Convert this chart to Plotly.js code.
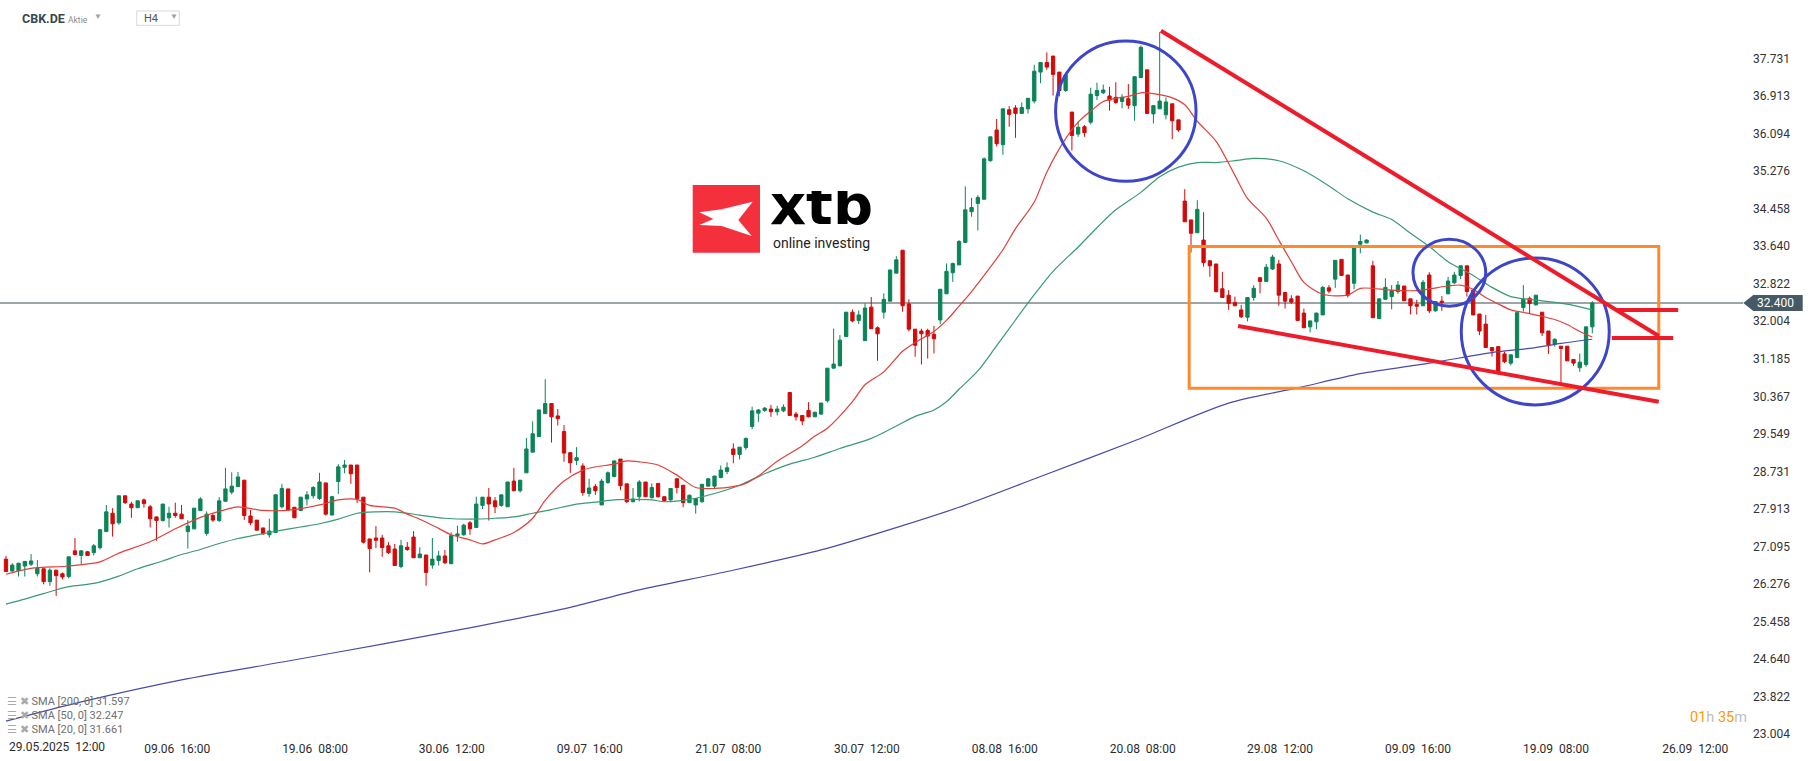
<!DOCTYPE html>
<html>
<head>
<meta charset="utf-8">
<script src="https://cdn.plot.ly/plotly-3.0.1.min.js"></script>
<style>html,body{margin:0;padding:0;background:#fff;}#chart{width:1815px;height:761px;}</style>
</head>
<body>
<div id="chart"></div>
<script>
// ---------------- DATA ----------------
const open = [26.82,26.56,26.57,26.67,26.71,26.50,26.61,26.33,26.58,26.50,26.44,27.00,26.90,26.98,26.96,27.07,27.42,27.82,27.61,28.20,
28.02,27.94,28.11,27.96,27.74,27.66,27.72,27.82,27.80,27.42,27.48,27.88,27.38,27.77,27.66,28.08,28.28,28.40,28.54,27.76,
27.67,27.50,27.35,27.40,27.96,28.35,27.95,27.88,28.13,28.20,28.14,28.48,27.78,28.51,28.82,28.87,28.87,28.17,27.26,27.28,
27.28,27.11,27.04,26.66,27.08,27.30,26.85,26.91,26.69,26.79,26.89,26.72,27.33,27.35,27.61,27.51,27.99,28.17,28.09,27.99,
27.96,28.52,28.31,28.70,29.15,29.49,29.99,30.21,29.94,29.60,29.14,28.97,28.85,28.25,28.40,28.00,28.49,28.62,29.00,28.46,
28.07,28.18,28.50,28.16,28.47,28.18,28.11,28.57,28.43,28.05,28.00,28.07,28.41,28.41,28.60,28.73,29.22,29.10,29.25,29.71,
30.00,30.06,30.09,30.03,30.05,30.45,29.98,29.95,30.06,29.92,29.98,30.27,30.98,31.03,31.67,32.20,32.02,31.58,32.31,31.86,
32.20,32.44,33.05,33.55,32.38,31.83,31.79,31.80,31.72,32.03,32.60,33.06,33.23,33.72,34.39,34.57,34.66,35.50,36.17,35.85,
36.61,36.65,36.53,36.63,36.80,37.43,37.64,37.78,37.43,37.03,36.56,36.08,36.24,36.34,36.92,36.98,36.91,36.88,36.79,36.85,
36.70,37.31,37.48,36.52,36.63,36.50,36.74,36.39,34.62,34.21,33.93,33.77,33.32,33.25,32.71,32.57,32.41,32.25,32.09,32.52,
32.95,32.87,33.14,33.25,32.63,32.49,32.55,32.18,31.88,31.99,32.14,32.73,32.92,33.35,33.01,32.83,33.68,33.71,33.21,32.06,
32.48,32.54,32.65,32.77,32.49,32.37,32.34,33.01,32.23,32.44,32.60,32.84,33.00,33.21,32.68,32.16,31.94,31.43,31.45,31.29,
31.09,31.21,32.30,32.50,32.36,32.20,31.79,31.50,31.46,31.46,31.17,30.99,31.06,31.88];
const high = [26.89,26.73,26.74,26.77,26.93,26.80,26.61,26.62,26.58,26.53,26.87,27.28,27.02,27.00,27.15,27.48,28.00,27.93,28.20,28.20,
28.07,28.09,28.14,28.00,27.74,28.02,27.96,28.05,28.00,27.67,27.93,28.17,27.86,27.81,28.17,28.81,28.71,28.72,28.54,27.89,
27.67,27.50,27.70,28.24,28.46,28.35,27.95,28.17,28.30,28.41,28.70,28.48,28.20,28.89,28.98,28.87,28.87,28.17,27.26,27.54,
27.35,27.19,27.15,27.24,27.19,27.43,27.08,26.91,27.28,27.00,27.02,27.40,27.55,27.59,27.65,28.18,28.17,28.37,28.17,28.22,
28.50,28.81,28.54,29.46,29.82,30.07,30.74,30.21,30.09,29.74,29.14,29.26,28.91,28.57,28.46,28.57,28.73,28.97,29.00,28.46,
28.37,28.54,28.50,28.47,28.47,28.18,28.36,28.59,28.43,28.23,28.14,28.45,28.59,28.63,28.86,28.93,29.34,29.26,29.47,30.14,
30.09,30.13,30.18,30.16,30.19,30.45,30.03,29.95,30.24,30.03,30.22,30.98,31.84,31.70,32.20,32.26,32.24,32.39,32.53,31.89,
32.61,33.12,33.42,33.55,32.48,31.83,31.84,31.84,31.90,32.70,33.26,33.28,33.77,34.94,34.69,34.75,35.57,36.02,36.41,36.63,
36.69,36.71,36.77,36.86,37.59,37.64,37.86,37.78,37.43,37.37,36.56,36.35,36.28,37.09,37.20,37.16,37.11,37.21,36.95,37.17,
37.33,38.01,37.48,36.70,38.30,36.88,36.74,36.39,34.88,34.21,34.64,34.38,33.32,33.25,33.08,32.68,32.54,32.36,32.52,32.79,
32.97,33.25,33.45,33.34,32.63,32.57,32.55,32.28,32.01,32.19,32.77,32.79,33.33,33.35,33.01,33.61,33.89,33.79,33.32,32.49,
32.94,32.79,32.88,32.77,32.49,32.47,32.90,33.07,32.43,32.55,32.97,33.08,33.21,33.21,32.68,32.16,32.14,31.43,31.45,31.34,
31.28,32.19,32.79,32.54,32.57,32.20,31.79,31.63,31.46,31.46,31.17,31.30,31.88,32.44];
const low = [26.55,26.55,26.44,26.44,26.67,26.44,26.27,26.24,26.02,26.38,26.40,26.90,26.71,26.90,26.90,27.03,27.42,27.31,27.57,28.02,
27.72,27.94,27.94,27.51,27.22,27.64,27.51,27.72,27.70,27.05,27.47,27.88,27.33,27.63,27.63,28.08,28.23,28.40,27.67,27.56,
27.45,27.35,27.29,27.40,27.93,27.89,27.72,27.88,27.99,28.14,28.11,27.77,27.78,28.24,28.69,28.46,28.04,27.16,26.53,27.06,
26.87,26.93,26.68,26.62,27.00,26.85,26.85,26.24,26.61,26.68,26.71,26.72,27.20,27.33,27.35,27.51,27.91,27.66,27.82,27.96,
27.96,28.30,28.27,28.70,29.15,29.49,29.99,29.36,29.73,28.94,28.70,28.87,28.20,28.18,28.22,28.00,28.46,28.62,28.32,28.04,
28.06,28.08,28.18,28.14,28.16,28.07,28.09,28.25,27.95,28.05,27.81,28.05,28.40,28.36,28.58,28.67,28.91,28.99,29.20,29.65,
29.81,30.03,29.92,29.95,30.02,29.95,29.84,29.74,29.91,29.92,29.96,30.23,30.98,31.03,31.67,31.98,31.94,31.58,31.84,31.14,
32.06,32.44,33.05,32.21,31.78,31.23,31.06,31.19,31.30,31.94,32.60,32.86,33.23,33.72,34.28,33.98,34.66,35.48,35.81,35.63,
36.24,36.00,36.53,36.53,36.75,37.19,37.48,36.92,36.90,37.00,35.72,36.02,36.02,36.29,36.82,36.95,36.59,36.74,36.64,36.63,
36.37,37.31,36.53,36.31,36.63,36.40,35.97,36.13,34.17,33.50,33.93,33.19,32.97,32.63,32.52,32.25,32.34,32.07,32.00,32.45,
32.61,32.87,33.12,32.34,32.28,32.38,32.02,31.86,31.76,31.83,32.14,32.61,32.73,33.00,32.52,32.70,33.48,33.70,32.08,32.06,
32.48,32.26,32.60,32.45,32.15,32.15,32.34,32.18,32.21,32.23,32.59,32.81,32.92,32.54,32.14,31.70,31.43,31.23,30.83,31.09,
31.04,31.21,32.21,32.18,32.34,31.68,31.29,31.45,30.65,31.14,31.03,30.90,31.01,31.74];
const close = [26.55,26.69,26.73,26.77,26.78,26.62,26.33,26.58,26.46,26.43,26.87,26.92,27.00,26.90,27.11,27.46,27.85,27.59,28.20,28.05,
27.94,28.09,28.03,27.70,27.66,28.02,27.82,27.77,27.70,27.54,27.93,28.13,27.80,27.67,28.09,28.35,28.41,28.61,27.77,27.61,
27.45,27.37,27.43,28.22,28.36,27.89,27.72,28.17,28.22,28.38,28.50,27.80,28.18,28.83,28.87,28.68,28.14,27.19,27.05,27.23,
27.07,26.96,26.68,27.11,27.03,26.85,26.93,26.53,26.82,26.89,26.74,27.33,27.37,27.56,27.48,28.02,28.17,28.02,27.96,28.22,
28.50,28.31,28.54,29.22,29.55,30.07,30.21,29.92,29.88,29.13,28.92,29.03,28.27,28.37,28.31,28.52,28.70,28.96,28.42,28.07,
28.13,28.50,28.18,28.38,28.18,28.09,28.36,28.38,28.05,28.21,28.14,28.45,28.57,28.63,28.76,28.81,29.10,29.26,29.45,30.05,
30.07,30.11,30.03,30.09,30.13,29.95,29.92,29.83,29.92,30.02,30.22,30.98,31.07,31.59,32.20,32.01,32.14,32.29,31.84,31.73,
32.48,33.12,33.34,32.34,31.83,31.48,31.73,31.68,31.62,32.70,33.09,33.26,33.74,34.43,34.48,34.70,35.54,36.02,35.87,36.63,
36.51,36.53,36.66,36.86,37.45,37.64,37.54,37.38,37.03,37.37,36.05,36.23,36.11,36.95,37.03,37.04,36.82,36.77,36.88,36.71,
37.33,37.97,36.53,36.70,36.80,36.78,36.37,36.17,34.17,33.92,34.44,33.28,33.21,32.65,32.52,32.39,32.34,32.10,32.52,32.72,
32.87,33.18,33.40,32.57,32.44,32.42,32.02,31.86,32.01,32.18,32.74,32.66,33.33,33.00,32.57,33.61,33.74,33.77,32.08,32.49,
32.74,32.67,32.79,32.45,32.34,32.33,32.85,32.23,32.43,32.41,32.88,33.01,33.21,32.65,32.14,31.79,31.43,31.36,30.90,31.12,
31.27,32.19,32.48,32.39,32.57,31.75,31.49,31.61,31.41,31.14,31.09,31.11,31.88,32.40];

// moving averages, sampled along the candle index
const sma20X = [0,4,10,15,18,23,27,31,35,37,41,46,50,53,56,58,62,64,66,69,71,74,76,78,81,84,86,89,92,94,97,99,101,104,107,110,113,116,118,120,123,127,129,131,135,137,140,143,145,148,150,152,154,156,159,161,164,166,169,171,173,175,177,179,181,183,186,188,190,193,196,198,201,203,205,207,210,214,216,221,225,230,232,234,236,238,240,243,245,247,249,251,253];
const sma20Y = [26.49,26.62,26.67,26.76,26.95,27.20,27.48,27.73,27.90,27.96,27.88,27.90,28.00,28.11,28.12,27.99,27.93,27.80,27.69,27.49,27.35,27.24,27.15,27.24,27.40,27.71,28.10,28.52,28.76,28.83,28.89,28.96,28.94,28.87,28.65,28.38,28.36,28.40,28.47,28.63,28.95,29.29,29.50,29.67,30.25,30.62,30.90,31.35,31.54,31.78,32.02,32.33,32.65,33.00,33.56,34.02,34.60,35.25,35.98,36.34,36.58,36.79,36.86,36.90,36.98,36.96,36.87,36.72,36.36,35.92,35.18,34.68,34.25,33.77,33.30,32.85,32.59,32.57,32.72,32.68,32.67,32.77,32.79,32.70,32.52,32.38,32.25,32.17,32.11,32.04,31.93,31.78,31.66];
const sma50X = [0,3,6,10,14,18,21,25,28,31,34,37,40,44,47,50,53,56,59,62,66,70,74,78,81,84,87,91,94,97,100,103,105,109,113,117,121,125,129,133,138,142,145,148,150,152,155,158,161,164,167,171,174,177,181,184,187,190,193,196,199,203,207,211,214,218,221,224,227,230,234,237,240,243,246,250,253];
const sma50Y = [25.84,25.95,26.07,26.22,26.29,26.45,26.61,26.78,26.92,27.03,27.16,27.27,27.35,27.45,27.52,27.59,27.69,27.82,27.85,27.85,27.78,27.71,27.69,27.71,27.74,27.82,27.90,28.02,28.06,28.11,28.12,28.11,28.07,28.12,28.25,28.43,28.68,28.89,29.04,29.23,29.45,29.72,29.93,30.07,30.25,30.52,30.92,31.47,32.03,32.58,33.09,33.62,34.04,34.43,34.81,35.15,35.36,35.46,35.46,35.50,35.55,35.50,35.28,34.95,34.67,34.38,34.22,33.92,33.63,33.30,33.00,32.74,32.54,32.48,32.43,32.35,32.25];
const sma200X = [0,12,28,45,60,75,90,101,115,130,143,152,165,180,195,206,216,227,238,243,248,253];
const sma200Y = [23.29,23.71,24.19,24.60,24.97,25.35,25.77,26.15,26.55,27.02,27.55,27.95,28.62,29.40,30.22,30.55,30.86,31.09,31.34,31.41,31.52,31.61];

const lastPrice = 32.40;
const yTickVals = [23.004,23.822,24.640,25.458,26.276,27.095,27.913,28.731,29.549,30.367,31.185,32.004,32.822,33.640,34.458,35.276,36.094,36.913,37.731];
const xTickVals = [27.3,49.3,71.1,93.1,115.2,137.3,159.3,181.3,203.2,225.2,247.2,269.4];
const xTickText = ['09.06  16:00','19.06  08:00','30.06  12:00','09.07  16:00','21.07  08:00','30.07  12:00','08.08  16:00','20.08  08:00','29.08  12:00','09.09  16:00','19.09  08:00','26.09  12:00'];
const firstDateLabel = '29.05.2025  12:00';
const legendRows = ['SMA [200, 0] 31.597','SMA [50, 0] 32.247','SMA [20, 0] 31.661'];

// drawing annotations on the chart (candle index / price)
const circles = [
  {x0:167.4, x1:189.8, y0:35.05, y1:38.11},
  {x0:224.4, x1:236.0, y0:32.33, y1:33.79},
  {x0:232.1, x1:255.7, y0:30.18, y1:33.38}
];
const box = {x0:188.7, x1:263.6, y0:30.54, y1:33.63};
const trendLines = [
  {x0:184.2, y0:38.33, x1:263.6, y1:31.68},
  {x0:196.5, y0:31.90, x1:263.6, y1:30.25}
];
const stubs = [
  {x0:256.9, x1:266.7, y:32.25},
  {x0:256.1, x1:265.9, y:31.64}
];

// ---------------- STYLE / LAYOUT ----------------
const W = 1815, H = 761, ML = 0, MR = 72, MT = 0, MB = 21;
const PW = W - ML - MR, PH = H - MT - MB;
const px = x => (x - ML) / PW;          // pixel -> paper
const py = y => 1 - (y - MT) / PH;
const GREEN = '#0b8457', RED = '#d10a0a';
const FONT = 'Roboto, "Noto Sans", sans-serif';

const idx = close.map((_, i) => i);

const traces = [
  {type:'candlestick', x: idx, open, high, low, close,
   increasing:{line:{color:GREEN, width:1}, fillcolor:GREEN},
   decreasing:{line:{color:RED, width:1}, fillcolor:RED},
   whiskerwidth:0, hoverinfo:'skip', showlegend:false},
  {type:'scatter', mode:'lines', x: sma200X, y: sma200Y, line:{color:'#4a4aa8', width:1.2, shape:'spline', smoothing:0.8}, hoverinfo:'skip', showlegend:false},
  {type:'scatter', mode:'lines', x: sma50X, y: sma50Y, line:{color:'#3a9a72', width:1.2, shape:'spline', smoothing:0.8}, hoverinfo:'skip', showlegend:false},
  {type:'scatter', mode:'lines', x: sma20X, y: sma20Y, line:{color:'#e0403a', width:1.2, shape:'spline', smoothing:0.8}, hoverinfo:'skip', showlegend:false}
];

const shapes = [];
shapes.push({type:'line', xref:'paper', yref:'y', x0:0, x1:1, y0:lastPrice, y1:lastPrice, line:{color:'#3d4b53', width:1}, layer:'below'});
shapes.push({type:'rect', xref:'x', yref:'y', x0:box.x0, x1:box.x1, y0:box.y0, y1:box.y1, line:{color:'#ff8a2a', width:3}, layer:'above'});
circles.forEach(c => shapes.push({type:'circle', xref:'x', yref:'y', x0:c.x0, x1:c.x1, y0:c.y0, y1:c.y1, line:{color:'#3e46c8', width:3}, layer:'above'}));
trendLines.forEach(t => shapes.push({type:'line', xref:'x', yref:'y', x0:t.x0, y0:t.y0, x1:t.x1, y1:t.y1, line:{color:'#ee1c2b', width:4}, layer:'above'}));
stubs.forEach(s => shapes.push({type:'line', xref:'x', yref:'y', x0:s.x0, x1:s.x1, y0:s.y, y1:s.y, line:{color:'#ee1c2b', width:4}, layer:'above'}));
shapes.push({type:'path', xref:'paper', yref:'paper', fillcolor:'#455a64', line:{width:0},
  path:`M ${px(1743.3)} ${py(303)} L ${px(1753.3)} ${py(295)} L ${px(1802.7)} ${py(295)} L ${px(1802.7)} ${py(311)} L ${px(1753.3)} ${py(311)} Z`});
shapes.push({type:'rect', xref:'paper', yref:'paper', x0:px(692.7), x1:px(760), y0:py(252.7), y1:py(185), fillcolor:'#f4303d', line:{width:0}, layer:'above'});
const mark = [[699.3,212.3],[721.7,209.3],[752.7,201.7],[738.3,220],[751.7,236],[721.7,226],[699.3,225],[713.3,219]];
shapes.push({type:'path', xref:'paper', yref:'paper', fillcolor:'#ffffff', line:{width:0}, layer:'above',
  path:'M ' + mark.map(p => px(p[0]) + ' ' + py(p[1])).join(' L ') + ' Z'});
shapes.push({type:'rect', xref:'paper', yref:'paper', x0:px(136.7), x1:px(179.3), y0:py(25.3), y1:py(11), line:{color:'#d9d9d9', width:1}, fillcolor:'#ffffff'});

const ann = [];
function txt(x, y, text, size, color, family, extra) {
  ann.push(Object.assign({xref:'paper', yref:'paper', x:px(x), y:py(y), text, showarrow:false,
    xanchor:'left', yanchor:'middle', font:{family: family || FONT, size, color}}, extra || {}));
}
txt(20, 19, '<b>CBK.DE</b>', 12.5, '#37474f');
txt(66, 19.5, 'Aktie', 8.5, '#8c8c8c');
txt(92, 17, '▼', 8, '#a0a0a0');
txt(141.5, 19, 'H4', 11, '#555555');
txt(167.5, 17, '▼', 8, '#a0a0a0');
txt(1755, 303, '32.400', 12, '#ffffff');
txt(6.5, 747, firstDateLabel, 12, '#2b2b2b');
txt(768, 214, '<b>xtb</b>', 56, '#000000', '"DejaVu Sans", sans-serif', {height:46, valign:'bottom'});
txt(771, 243, 'online investing', 14, '#222222');
txt(1688, 717, '<span style="color:#ff9800">01</span><span style="color:#bdbdbd">h</span> <span style="color:#ff9800">35</span><span style="color:#bdbdbd">m</span>', 14.5, '#ff9800');
const legendY = [701.7, 715, 729];
legendRows.forEach((t, i) => txt(5, legendY[i], '<span style="color:#a9a9a9">☰ ✖</span> ' + t, 11, '#6f6f6f'));

const layout = {
  width: W, height: H,
  margin:{l:ML, r:MR, t:MT, b:MB, pad:0},
  paper_bgcolor:'#ffffff', plot_bgcolor:'#ffffff',
  showlegend:false, dragmode:false, hovermode:false,
  boxgap:0.25,
  xaxis:{range:[-6/6.27, (PW-6)/6.27], showgrid:false, zeroline:false, showline:false, ticks:'',
    tickmode:'array', tickvals:xTickVals, ticktext:xTickText, tickfont:{family:FONT, size:12, color:'#2b2b2b'},
    rangeslider:{visible:false}, fixedrange:true},
  yaxis:{side:'right', range:[32.4 - (PH - 303)/45.9, 32.4 + 303/45.9], showgrid:false, zeroline:false, showline:false, ticks:'',
    tickmode:'array', tickvals:yTickVals, ticktext:yTickVals.map(v => v.toFixed(3)), ticklabelstandoff:9,
    tickfont:{family:FONT, size:12, color:'#333333'}, fixedrange:true},
  shapes, annotations: ann,
  font:{family:FONT}
};

Plotly.newPlot('chart', traces, layout, {staticPlot:true, displayModeBar:false});
</script>
</body>
</html>
